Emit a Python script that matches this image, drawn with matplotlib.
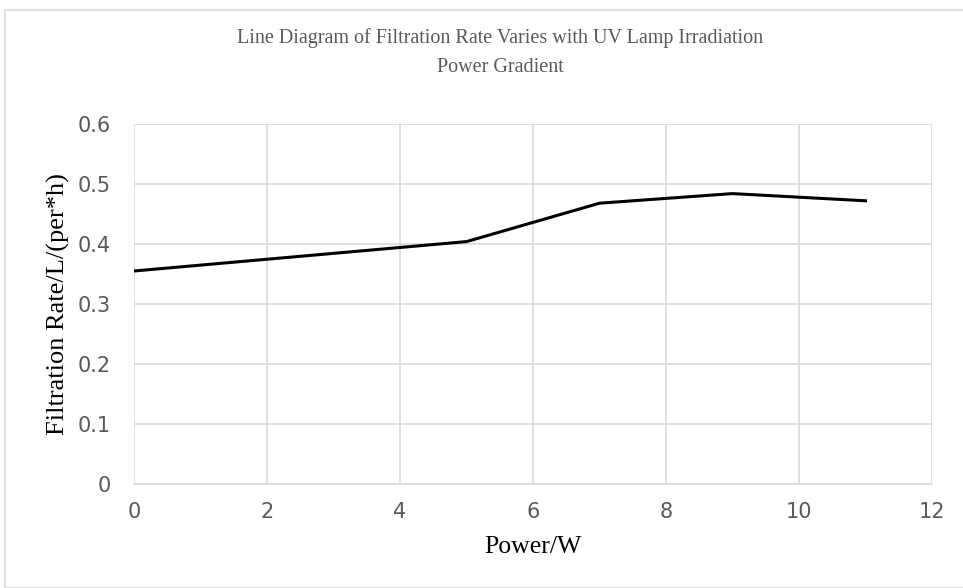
import matplotlib.pyplot as plt
from matplotlib.patches import Rectangle

# power gradient (W) and measured filtration rate
power = [0, 5, 7, 9, 11]
rate = [0.355, 0.404, 0.468, 0.484, 0.472]

xticks = [0, 2, 4, 6, 8, 10, 12]
yticks = [0, 0.1, 0.2, 0.3, 0.4, 0.5, 0.6]
ytick_labels = ['0', '0.1', '0.2', '0.3', '0.4', '0.5', '0.6']

fig = plt.figure(figsize=(9.63, 5.88), dpi=100)
fig.patches.append(Rectangle((5 / 963, 0.0), 1.0, 1 - 10 / 588, transform=fig.transFigure,
                             fill=False, edgecolor='#d9d9d9', linewidth=1.2))

ax = fig.add_axes([134 / 963, 1 - 484 / 588, (932 - 134) / 963, (484 - 124) / 588])
ax.plot(power, rate, color='black', linewidth=2.2, solid_joinstyle='miter')

ax.set_xlim(0, 12)
ax.set_ylim(0, 0.6)
ax.set_xticks(xticks)
ax.set_yticks(yticks)
ax.set_yticklabels(ytick_labels)
ax.grid(True, color='#d9d9d9', linewidth=1.2)
ax.set_axisbelow(True)
for s in ['top', 'right', 'left']:
    ax.spines[s].set_visible(False)
ax.spines['bottom'].set_color('#d9d9d9')
ax.spines['bottom'].set_linewidth(1.2)
ax.tick_params(length=0, labelsize=15, labelcolor='#595959')
ax.tick_params(axis='y', pad=17)
ax.tick_params(axis='x', pad=13)
for lab in ax.get_xticklabels() + ax.get_yticklabels():
    lab.set_fontfamily('Liberation Sans Narrow')

fig.text(500 / 963, 1 - 38 / 588, 'Line Diagram of Filtration Rate Varies with UV Lamp Irradiation',
         ha='center', va='center', fontsize=14.5, color='#595959', family='Liberation Serif')
fig.text(500 / 963, 1 - 68 / 588, 'Power Gradient',
         ha='center', va='center', fontsize=14.5, color='#595959', family='Liberation Serif')
fig.text(533 / 963, 1 - 547 / 588, 'Power/W', ha='center', va='center',
         fontsize=18.5, color='black', family='Liberation Serif')
fig.text(58 / 963, 1 - 304 / 588, 'Filtration Rate/L/(per*h)', ha='center', va='center',
         rotation=90, fontsize=19, color='black', family='Liberation Serif')

fig.savefig('out.png', dpi=100)
